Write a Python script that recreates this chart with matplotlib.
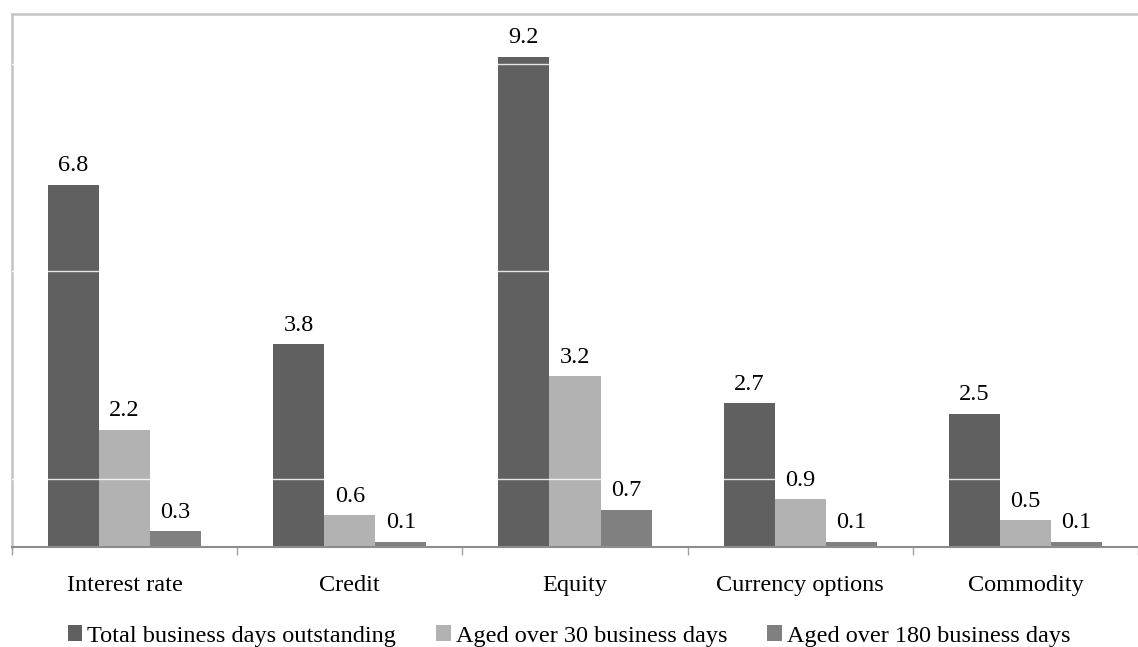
import matplotlib
matplotlib.use("Agg")
import matplotlib.pyplot as plt
import numpy as np

categories = ["Interest rate", "Credit", "Equity", "Currency options", "Commodity"]
series_names = ["Total business days outstanding",
                "Aged over 30 business days",
                "Aged over 180 business days"]
total_days = [6.8, 3.8, 9.2, 2.7, 2.5]
aged_30 = [2.2, 0.6, 3.2, 0.9, 0.5]
aged_180 = [0.3, 0.1, 0.7, 0.1, 0.1]
grid_levels = [1.28, 5.18, 9.06]

colors = ["#606060", "#b2b2b2", "#808080"]

plt.rcParams["font.family"] = ["Liberation Serif", "DejaVu Serif"]

fig = plt.figure(figsize=(11.38, 6.47), dpi=100)
ax = fig.add_axes([12 / 1138, 1 - 547 / 647, 1126 / 1138, 533 / 647])

x = np.arange(len(categories)) + 0.5
width = 0.227
values = [total_days, aged_30, aged_180]
for k, (vals, name, col) in enumerate(zip(values, series_names, colors)):
    pos = x + (k - 1) * width
    bars = ax.bar(pos, vals, width, color=col, label=name, zorder=1)
    for b, v in zip(bars, vals):
        ax.annotate(f"{v:.1f}", (b.get_x() + b.get_width() / 2, v),
                    xytext=(0, 6), textcoords="offset points",
                    ha="center", va="bottom", fontsize=17.5, color="black")

ax.set_xlim(0, len(categories))
ax.set_ylim(0, 10)

# white horizontal guide lines drawn over the bars
ax.set_yticks(grid_levels)
ax.set_yticklabels([])
ax.tick_params(axis="y", length=0)
ax.set_axisbelow(False)
ax.yaxis.grid(True, color="white", linewidth=1.0, alpha=0.85)

# category boundaries as ticks, names centered between them
ax.set_xticks(np.arange(len(categories) + 1))
ax.set_xticklabels([])
ax.tick_params(axis="x", which="major", direction="out", length=6,
               width=1, color="#a0a0a0")
ax.set_xticks(x, minor=True)
ax.set_xticklabels(categories, minor=True, fontsize=17.5)
ax.tick_params(axis="x", which="minor", length=0, pad=20)

for side in ["left", "top"]:
    ax.spines[side].set_color("#c4c4c4")
    ax.spines[side].set_linewidth(1.8)
ax.spines["right"].set_visible(False)
ax.spines["bottom"].set_color("#8c8c8c")
ax.spines["bottom"].set_linewidth(1.5)

fig.legend(loc="center", bbox_to_anchor=(0.5, 1 - 636 / 647), ncol=3,
           frameon=False, fontsize=17.5, handlelength=0.6, handleheight=0.6,
           handletextpad=0.2, columnspacing=1.65)

fig.savefig("out.png", dpi=100)
